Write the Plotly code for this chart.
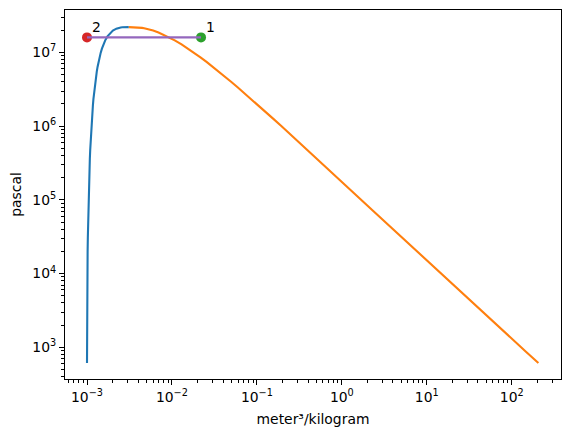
import math

import plotly.graph_objects as go

# saturation table of water, triple point -> critical point
p_sat = [611.7, 872.5, 1228.1, 1705.7, 2339.2, 3169.8, 4246.9, 7385.1,
         12352, 19946, 31201, 47416, 70183, 101420, 143380, 198670,
         270280, 361530, 476160, 618230, 792180, 1002800, 1255200,
         1554900, 1907700, 2319600, 2797100, 3346900, 3976200, 4692300,
         5503000, 6416600, 7441800, 8587900, 9865000, 11284000, 12858000,
         14601000, 16529000, 18666000, 19822000, 21044000, 21297000,
         21554000, 21814000, 21945000, 22024000, 22051000, 22064000]
v_liq = [0.001000, 0.001000, 0.001000, 0.001001, 0.001002, 0.001003,
         0.001004, 0.001008, 0.001012, 0.001017, 0.001023, 0.001029,
         0.001036, 0.001043, 0.001052, 0.001060, 0.001070, 0.001080,
         0.001091, 0.001102, 0.001114, 0.001127, 0.001141, 0.001157,
         0.001173, 0.001190, 0.001209, 0.001229, 0.001252, 0.001276,
         0.001303, 0.001333, 0.001366, 0.001404, 0.001448, 0.001499,
         0.001561, 0.001638, 0.001741, 0.001895, 0.002016, 0.002217,
         0.002280, 0.002362, 0.002491, 0.002604, 0.002738, 0.002840,
         0.003106]
v_vap = [206.00, 147.03, 106.32, 77.885, 57.762, 43.340, 32.879, 19.515,
         12.026, 7.6670, 5.0396, 3.4053, 2.3593, 1.6720, 1.2094, 0.89133,
         0.66808, 0.50850, 0.39248, 0.30680, 0.24260, 0.19384, 0.15636,
         0.12721, 0.10429, 0.08609, 0.07150, 0.05971, 0.05008, 0.04217,
         0.03562, 0.03015, 0.02555, 0.02166, 0.01834, 0.01548, 0.01298,
         0.01079, 0.008811, 0.006950, 0.006009, 0.004953, 0.004713,
         0.004437, 0.004085, 0.003830, 0.003582, 0.003426, 0.003106]

# process states
state_v = [0.022, 0.001]
state_p = [1.6e7, 1.6e7]
state_names = ['1', '2']
state_colors = ['#2ca02c', '#d62728']

x_decades = [-3, -2, -1, 0, 1, 2]
y_decades = [3, 4, 5, 6, 7]

FS = 13.9  # 10pt at 100 dpi


def power_label(n):
    return '10<sup>%s</sup>' % str(n).replace('-', '\u2212')


def minor_vals(lo, hi):
    return [k * 10.0 ** n for n in range(lo, hi) for k in range(2, 10)]


traces = [
    go.Scatter(x=v_liq, y=p_sat, mode='lines',
               line={'color': '#1f77b4', 'width': 2.1}),
    go.Scatter(x=v_vap[::-1], y=p_sat[::-1], mode='lines',
               line={'color': '#ff7f0e', 'width': 2.1}),
]
for v, p, c in zip(state_v, state_p, state_colors):
    traces.append(go.Scatter(x=[v], y=[p], mode='markers',
                             marker={'color': c, 'size': 10}))
traces.append(go.Scatter(x=state_v, y=state_p, mode='lines',
                         line={'color': '#9467bd', 'width': 2.1}))

annotations = []
for v, p, name in zip(state_v, state_p, state_names):
    annotations.append({
        'x': math.log10(v), 'y': math.log10(p),
        'text': name, 'showarrow': False,
        'xanchor': 'left', 'yanchor': 'bottom',
        'xshift': 3, 'yshift': 0,
        'font': {'size': FS, 'color': 'black'},
    })

axis_common = {
    'type': 'log', 'showgrid': False, 'zeroline': False, 'automargin': False,
    'showline': True, 'linecolor': 'black', 'linewidth': 1, 'mirror': True,
    'ticks': 'outside', 'ticklen': 5, 'tickwidth': 1, 'tickcolor': 'black',
    'tickmode': 'array',
    'tickfont': {'family': 'DejaVu Sans', 'size': FS, 'color': 'black'},
}

# page body adds 8px around the figure, margins compensate for it
layout = go.Layout(
    width=570, height=437,
    margin={'l': 57, 'r': 17, 't': 2, 'b': 66},
    paper_bgcolor='white', plot_bgcolor='white',
    showlegend=False,
    font={'family': 'DejaVu Sans', 'size': FS, 'color': 'black'},
    annotations=annotations,
    xaxis=dict(axis_common,
               range=[-3.259, 2.58],
               tickvals=[10.0 ** n for n in x_decades],
               ticktext=[power_label(n) for n in x_decades],
               minor={'tickvals': minor_vals(-4, 3), 'ticks': 'outside',
                      'ticklen': 3, 'tickcolor': 'black'},
               title={'text': 'meter³/kilogram', 'standoff': 10,
                      'font': {'size': FS}}),
    yaxis=dict(axis_common,
               range=[2.57, 7.576],
               tickvals=[10.0 ** n for n in y_decades],
               ticktext=[power_label(n) for n in y_decades],
               minor={'tickvals': minor_vals(2, 8), 'ticks': 'outside',
                      'ticklen': 3, 'tickcolor': 'black'},
               title={'text': 'pascal', 'standoff': 10,
                      'font': {'size': FS}}),
)

fig = go.Figure(data=traces, layout=layout)
fig.write_html('out.html')
